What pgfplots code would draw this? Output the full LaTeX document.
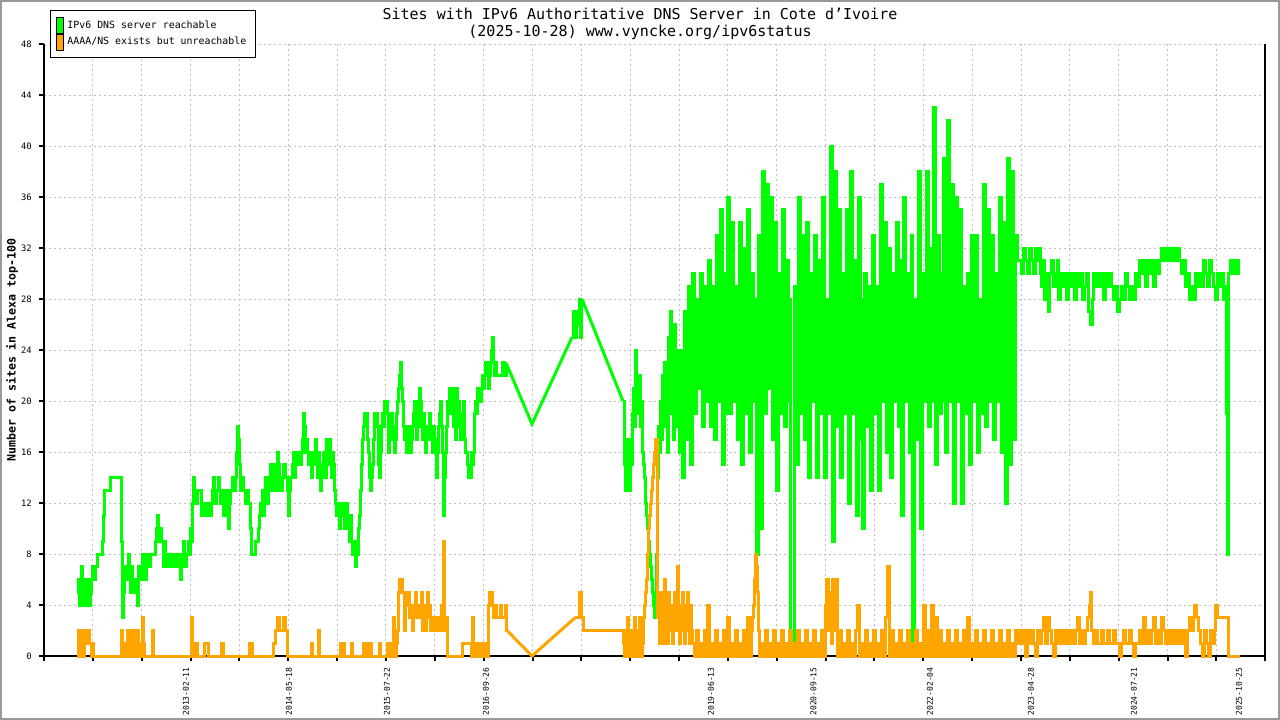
\documentclass[border=0pt]{standalone}
\usepackage{fontspec}
\setmainfont{DejaVu Sans Mono}
\usepackage{pgfplots}
\pgfplotsset{compat=1.18}
\definecolor{ipgreen}{HTML}{00FF00}
\definecolor{iporange}{HTML}{FFA500}
\definecolor{gridgray}{HTML}{C0C0C0}
\definecolor{framegray}{HTML}{999999}
\begin{document}
\begin{tikzpicture}
\useasboundingbox (0,0) rectangle (640bp,360bp);
\fill[white] (0,0) rectangle (640bp,360bp);
\draw[framegray, line width=1bp] (0.5bp,0.5bp) rectangle (639.5bp,359.5bp);
\begin{axis}[
  at={(22bp,32bp)}, anchor=south west,
  scale only axis, width=610.65bp, height=306bp,
  xmin=44, xmax=1265.3, ymin=0, ymax=48,
  clip=false,
  axis lines=left, axis line style={-, line width=1bp, black},
  tick align=outside, major tick length=2.5bp,
  tick style={black, line width=1bp},
  ytick={0,4,...,48},
  xtick={44,92.85,141.7,190.55,239.4,288.25,337.1,385.95,434.8,483.65,532.5,581.35,630.2,679.05,727.9,776.75,825.6,874.45,923.3,972.15,1021,1069.85,1118.7,1167.55,1216.4,1265.25},
  xticklabels={},
  extra x ticks={186,289,387,486,711,813.5,930,1031,1134,1239},
  extra x tick labels={2013-02-11,2014-05-18,2015-07-22,2016-09-26,2019-06-13,2020-09-15,2022-02-04,2023-04-28,2024-07-21,2025-10-25},
  extra x tick style={major tick length=0pt, grid=none},
  xmajorgrids, ymajorgrids,
  grid style={gridgray, line width=0.5bp, dash pattern=on 1bp off 1.5bp},
  /pgf/number format/assume math mode=true,
  xticklabel style={rotate=90, anchor=east, inner sep=0pt, xshift=-5.5bp, font=\fontsize{4.0bp}{4.8bp}\selectfont},
  yticklabel style={inner sep=0pt, xshift=-3.5bp, font=\fontsize{4.4bp}{5.2bp}\selectfont},
  ylabel={Number of sites in Alexa top-100},
  ylabel style={at={(axis description cs:-0.0262,0.5)}, anchor=center, font=\bfseries\fontsize{5.8bp}{7bp}\selectfont},
  legend style={at={(axis description cs:0.0049,1.0556)}, anchor=north west, draw=black, line width=0.5bp, fill=white,
    font=\fontsize{4.95bp}{6bp}\selectfont, inner xsep=3bp, inner ysep=3.5bp, row sep=0pt,
    nodes={inner xsep=1.6bp, inner ysep=0.3bp}},
  legend cell align=left,
]
% green: IPv6 DNS server reachable
\addplot[ipgreen, line width=1.5bp, const plot,
  legend image code/.code={\filldraw[fill=ipgreen, draw=black, line width=0.5bp] (0bp,-3.9bp) rectangle (3.4bp,3.9bp);}]
coordinates {(77,5)(78,6)(79,4)(80,6)(81,7)(82,5)(83,4)(84,6)(85,5)(86,4)(87,6)(88,5)(89,4)(90,5)(91,6)(92,7)(94,6)(95,7)(97,8)(100,8)(102,9)(103,11)(104,13)(107,13)(110,14)(120,14)(121,9)(122,3)(123,5)(124,7)(125,6)(127,7)(128,8)(129,6)(130,5)(131,7)(132,5)(134,6)(136,5)(137,4)(138,7)(139,6)(141,7)(142,8)(144,6)(146,8)(148,7)(150,8)(153,8)(155,9)(156,10)(157,11)(158,10)(159,9)(160,10)(161,9)(163,7)(164,9)(165,8)(167,7)(168,8)(170,7)(172,8)(173,7)(174,8)(176,7)(178,8)(180,6)(181,7)(182,8)(183,9)(184,7)(186,8)(188,9)(189,8)(190,10)(191,9)(192,12)(193,14)(194,13)(196,12)(197,13)(200,13)(201,11)(203,11)(204,12)(206,11)(208,12)(210,11)(211,12)(212,13)(213,14)(214,12)(216,13)(218,14)(219,13)(220,12)(222,13)(223,11)(224,12)(226,13)(227,11)(228,10)(229,12)(230,13)(232,14)(234,13)(235,14)(236,16)(237,18)(238,17)(239,15)(240,13)(242,14)(243,13)(245,12)(246,13)(248,12)(250,10)(251,8)(253,8)(255,9)(257,9)(258,10)(259,11)(260,12)(262,13)(263,11)(264,12)(265,14)(266,12)(268,13)(269,14)(270,15)(271,13)(272,14)(274,15)(275,13)(276,14)(277,16)(278,15)(279,13)(280,14)(281,13)(282,14)(283,15)(285,14)(287,13)(288,11)(289,13)(290,14)(292,15)(293,16)(294,14)(295,16)(297,15)(298,16)(299,15)(301,16)(302,17)(303,19)(304,18)(305,16)(306,17)(307,16)(308,15)(309,16)(310,15)(311,14)(312,15)(313,16)(314,15)(315,17)(316,15)(317,14)(318,16)(319,15)(320,13)(321,15)(322,14)(323,16)(324,15)(325,14)(326,17)(327,16)(328,15)(329,17)(330,16)(331,14)(332,16)(333,15)(334,13)(335,12)(336,11)(337,12)(338,11)(339,10)(340,11)(341,12)(343,11)(344,10)(345,12)(347,11)(348,10)(349,9)(350,11)(351,9)(352,8)(353,9)(354,8)(355,7)(356,9)(357,8)(358,10)(359,11)(360,13)(361,15)(362,17)(363,18)(364,19)(365,18)(366,19)(367,17)(368,16)(369,14)(370,13)(371,14)(372,15)(373,17)(374,19)(375,18)(376,19)(377,18)(378,15)(379,14)(380,16)(381,18)(382,19)(383,18)(384,20)(385,19)(386,20)(387,19)(388,16)(389,17)(390,18)(391,19)(392,18)(393,17)(394,16)(395,17)(396,19)(397,20)(398,21)(399,22)(400,23)(401,21)(402,20)(403,18)(404,17)(405,18)(406,16)(407,17)(408,18)(409,17)(410,16)(411,17)(412,18)(413,19)(414,20)(415,18)(416,17)(417,18)(418,20)(419,21)(420,20)(421,18)(422,17)(423,19)(424,18)(425,16)(426,17)(427,18)(428,17)(429,19)(430,18)(431,17)(432,16)(433,18)(434,17)(435,16)(436,14)(437,16)(438,18)(439,19)(440,20)(441,18)(442,16)(443,11)(444,14)(445,16)(446,18)(447,20)(448,19)(449,21)(450,20)(451,19)(452,21)(453,18)(454,20)(455,17)(456,21)(457,19)(458,20)(459,18)(460,17)(461,19)(462,18)(463,20)(464,17)(465,16)(466,16)(467,15)(468,14)(469,15)(470,14)(471,16)(472,15)(473,16)(474,19)(475,20)(476,19)(477,21)(478,20)(479,21)(480,20)(481,21)(482,22)(483,21)(484,22)(485,23)(486,22)(487,23)(488,21)(489,22)(490,23)(491,24)(492,25)(493,23)(494,22)(495,23)(496,22)(498,22)(500,22)(502,23)(504,22)(506,23)};
\addlegendentry{IPv6 DNS server reachable}
\addplot[ipgreen, line width=1.5bp, sharp plot, forget plot] coordinates {(506,23)(532,18.2)(572,25)};
\addplot[ipgreen, line width=1.5bp, const plot, forget plot] coordinates {(572,25)(573,27)(574,25)(576,26)(577,27)(579,28)(580,25)(581,28)(582,28)};
\addplot[ipgreen, line width=1.5bp, sharp plot, forget plot] coordinates {(582,28)(623,20)};
\addplot[ipgreen, line width=1.5bp, const plot, forget plot]
coordinates {(623,20)(624,15)(625,13)(626,17)(627,14)(628,16)(629,13)(630,17)(631,15)(632,19)(633,21)(634,18)(635,24)(636,22)(637,20)(638,19)(639,22)(640,18)(641,20)(642,16)(643,15)(644,14)(645,12)(646,11)(647,10)(648,9)(649,8)(650,7)(651,6)(652,5)(653,4)(654,3)(655,5)(656,8)(657,14)(658,18)(659,16)(660,20)(661,17)(662,22)(663,19)(664,23)(665,18)(666,21)(667,16)(668,25)(669,20)(670,27)(671,19)(672,23)(673,17)(674,26)(675,21)(676,24)(677,18)(678,22)(679,16)(680,24)(682,14)(684,27)(686,17)(688,29)(690,15)(692,30)(694,19)(696,28)(698,21)(700,30)(702,18)(704,29)(706,20)(708,31)(710,18)(712,29)(714,17)(716,33)(718,20)(720,35)(722,15)(724,30)(726,19)(727,36)(729,19)(731,34)(733,20)(735,29)(737,17)(739,34)(741,15)(743,32)(745,19)(747,35)(749,16)(751,30)(753,20)(755,28)(756,8)(758,33)(760,10)(762,38)(764,19)(766,37)(768,21)(770,36)(772,17)(774,34)(776,13)(778,30)(780,19)(782,35)(784,18)(786,31)(788,20)(789,28)(790,1)(792,0)(794,29)(796,15)(798,36)(800,19)(802,33)(804,17)(806,34)(808,14)(810,30)(812,20)(814,33)(816,14)(818,31)(820,19)(822,36)(824,14)(826,28)(828,19)(830,40)(832,9)(834,38)(836,18)(838,35)(840,14)(842,30)(844,19)(846,35)(848,12)(850,38)(852,19)(854,31)(856,11)(858,36)(860,17)(861,28)(862,10)(864,30)(866,18)(868,29)(870,13)(872,33)(874,19)(876,29)(878,13)(880,37)(882,20)(884,34)(886,16)(888,32)(890,14)(892,30)(894,20)(896,34)(898,18)(900,31)(901,11)(903,36)(905,20)(907,30)(909,16)(911,33)(912,0)(914,28)(916,17)(918,38)(920,10)(922,30)(924,20)(926,38)(928,18)(930,32)(932,20)(933,43)(935,15)(937,33)(939,19)(941,30)(942,20)(943,39)(945,16)(947,42)(949,20)(951,37)(953,12)(955,36)(957,20)(959,35)(961,12)(963,29)(965,19)(967,30)(969,15)(971,33)(973,20)(975,33)(977,16)(979,28)(981,19)(983,37)(985,18)(987,35)(989,20)(991,33)(993,17)(995,30)(997,20)(999,36)(1001,16)(1003,34)(1005,12)(1007,39)(1009,15)(1011,38)(1013,17)(1015,33)(1017,31)(1020,31)(1021,30)(1023,32)(1025,31)(1027,30)(1029,32)(1031,31)(1033,30)(1035,32)(1037,31)(1039,32)(1040,30)(1041,29)(1043,31)(1044,28)(1046,30)(1048,27)(1049,30)(1051,31)(1053,29)(1055,30)(1057,31)(1058,28)(1060,30)(1062,29)(1064,30)(1066,28)(1068,30)(1070,29)(1072,30)(1074,28)(1076,30)(1078,29)(1080,30)(1082,28)(1084,29)(1086,30)(1088,27)(1090,26)(1092,28)(1093,30)(1095,29)(1097,30)(1099,29)(1101,30)(1103,28)(1105,30)(1107,29)(1109,30)(1111,29)(1113,28)(1115,29)(1117,27)(1119,28)(1121,29)(1123,28)(1125,30)(1127,29)(1129,28)(1131,29)(1133,28)(1135,30)(1137,29)(1139,31)(1141,30)(1143,31)(1145,29)(1147,31)(1149,30)(1151,31)(1153,29)(1155,31)(1157,30)(1159,31)(1161,32)(1163,31)(1165,32)(1167,31)(1169,32)(1171,31)(1173,32)(1175,31)(1177,32)(1179,31)(1181,30)(1183,31)(1185,29)(1187,30)(1189,28)(1191,29)(1193,28)(1195,30)(1197,29)(1199,30)(1201,29)(1203,31)(1205,30)(1207,29)(1209,31)(1211,30)(1213,29)(1215,28)(1217,30)(1219,29)(1221,30)(1223,28)(1225,29)(1226,19)(1227,8)(1228,30)(1230,31)(1232,30)(1234,31)(1236,30)(1238,31)(1240,31)};
% orange: AAAA/NS exists but unreachable
\addplot[iporange, line width=1.5bp, const plot,
  legend image code/.code={\filldraw[fill=iporange, draw=black, line width=0.5bp] (0bp,-3.9bp) rectangle (3.4bp,3.9bp);}]
coordinates {(77,2)(78,0)(79,1)(80,0)(81,2)(82,1)(83,0)(84,1)(85,2)(86,1)(87,2)(88,2)(89,1)(90,1)(91,0)(92,1)(93,0)(94,0)(120,0)(121,2)(122,0)(123,1)(124,0)(126,1)(127,2)(128,1)(129,0)(130,1)(131,2)(132,1)(133,0)(134,1)(135,2)(136,0)(137,2)(138,1)(139,0)(140,1)(141,0)(142,3)(143,1)(144,0)(152,2)(153,0)(190,0)(191,3)(192,0)(195,1)(197,0)(204,1)(208,0)(221,1)(223,0)(249,1)(252,0)(273,1)(275,2)(277,3)(279,2)(281,2)(283,3)(285,2)(287,0)(311,1)(312,0)(318,2)(319,0)(340,1)(341,0)(343,1)(344,0)(351,1)(352,0)(363,1)(364,0)(366,1)(367,0)(369,1)(371,0)(379,1)(380,0)(387,1)(388,0)(389,1)(391,0)(393,3)(394,0)(396,1)(397,2)(398,5)(399,6)(401,6)(402,5)(404,2)(405,5)(406,4)(407,5)(409,3)(411,4)(412,2)(413,4)(414,3)(415,5)(416,4)(418,3)(419,4)(420,3)(421,5)(422,2)(423,4)(424,3)(425,2)(426,4)(427,5)(428,3)(429,4)(430,2)(431,3)(432,2)(434,3)(436,2)(438,3)(440,2)(441,4)(442,2)(443,9)(444,2)(446,3)(447,0)(462,1)(470,1)(471,0)(472,3)(473,0)(474,1)(475,0)(477,1)(478,0)(480,1)(481,0)(483,1)(485,0)(486,1)(487,0)(488,4)(489,5)(490,4)(491,5)(492,4)(493,3)(495,4)(496,3)(498,3)(500,4)(501,3)(503,3)(505,4)(506,2)(507,2)};
\addlegendentry{AAAA/NS exists but unreachable}
\addplot[iporange, line width=1.5bp, sharp plot, forget plot] coordinates {(507,2)(532,0)(575,3)};
\addplot[iporange, line width=1.5bp, const plot, forget plot]
coordinates {(575,3)(579,5)(581,3)(583,2)(623,1)(624,0)(625,2)(626,0)(627,3)(628,1)(629,0)(630,2)(631,0)(632,1)(633,0)(634,3)(635,1)(636,0)(637,2)(638,0)(639,3)(640,2)(641,0)(642,1)(643,3)(644,4)(645,5)(646,6)(647,8)(648,10)(649,11)(650,12)(651,13)(652,14)(653,15)(654,16)(655,17)(656,17)(657,3)(658,3)(659,1)(660,5)(661,2)(662,4)(663,1)(664,6)(665,2)(666,4)(667,1)(668,5)(669,3)(670,2)(671,4)(672,1)(673,3)(674,5)(675,2)(676,4)(677,7)(678,3)(679,1)(680,4)(681,2)(682,5)(683,3)(684,1)(685,4)(686,2)(687,5)(688,3)(689,1)(690,4)(691,2)(692,1)(694,0)(696,2)(698,0)(700,1)(702,0)(704,2)(706,0)(707,4)(709,0)(711,1)(713,0)(715,2)(717,0)(719,1)(721,0)(723,2)(725,0)(727,3)(729,0)(731,1)(733,0)(735,2)(737,0)(739,1)(741,0)(743,2)(745,0)(747,3)(749,0)(751,2)(752,3)(753,4)(754,6)(755,8)(756,7)(757,5)(758,2)(759,0)(761,1)(763,0)(765,2)(767,0)(769,1)(771,0)(773,2)(775,0)(777,1)(779,0)(781,2)(783,0)(785,1)(787,0)(789,2)(791,0)(793,1)(795,0)(797,2)(799,0)(801,1)(803,0)(805,2)(807,0)(809,1)(811,0)(813,2)(815,0)(817,1)(819,0)(821,2)(823,0)(825,4)(826,6)(828,2)(830,5)(831,1)(832,6)(834,2)(836,6)(837,0)(839,2)(841,0)(843,1)(845,0)(847,2)(849,0)(851,1)(853,0)(855,2)(857,4)(859,0)(861,1)(863,0)(865,2)(867,0)(869,1)(871,0)(873,2)(875,0)(877,1)(879,0)(881,2)(883,0)(885,3)(887,7)(889,0)(891,2)(893,0)(895,1)(897,0)(899,2)(901,0)(903,1)(905,0)(907,2)(909,0)(911,1)(913,0)(915,2)(917,0)(919,1)(921,0)(923,4)(925,0)(927,2)(929,0)(931,4)(933,0)(935,3)(937,0)(939,2)(941,0)(943,1)(945,0)(947,2)(949,0)(951,1)(953,0)(955,2)(957,0)(959,1)(961,0)(963,2)(965,0)(967,3)(969,0)(971,1)(973,0)(975,2)(977,0)(979,1)(981,0)(983,2)(985,0)(987,1)(989,0)(991,2)(993,0)(995,1)(997,0)(999,2)(1001,0)(1003,1)(1005,0)(1007,2)(1009,0)(1011,1)(1013,0)(1015,2)(1017,1)(1019,2)(1021,1)(1023,2)(1025,0)(1027,2)(1029,1)(1031,2)(1033,1)(1035,0)(1037,2)(1039,1)(1041,2)(1043,3)(1045,1)(1047,3)(1049,2)(1051,1)(1053,0)(1055,2)(1057,1)(1059,2)(1061,1)(1063,2)(1065,1)(1067,2)(1069,1)(1071,2)(1073,1)(1075,2)(1077,3)(1079,1)(1081,2)(1083,1)(1085,2)(1087,3)(1089,4)(1090,5)(1091,2)(1093,1)(1095,2)(1097,1)(1099,1)(1101,2)(1103,1)(1105,1)(1107,2)(1109,1)(1111,1)(1113,2)(1115,1)(1117,1)(1119,0)(1121,1)(1123,2)(1125,1)(1127,1)(1129,2)(1131,1)(1133,0)(1135,1)(1137,1)(1139,2)(1141,1)(1143,3)(1145,1)(1147,2)(1149,1)(1151,2)(1153,3)(1155,1)(1157,2)(1159,1)(1161,3)(1163,2)(1165,1)(1167,2)(1169,1)(1171,2)(1173,1)(1175,2)(1177,1)(1179,2)(1181,1)(1183,2)(1185,0)(1187,2)(1189,3)(1191,2)(1193,3)(1194,4)(1196,3)(1198,2)(1200,1)(1202,0)(1204,2)(1206,1)(1208,0)(1210,2)(1212,1)(1214,2)(1215,4)(1217,3)(1227,3)(1228,0)(1240,0)};
\draw[black, line width=1bp] (rel axis cs:1,0) -- (rel axis cs:1,1);
\end{axis}
\node[font=\fontsize{7.5bp}{9bp}\selectfont] at (320bp,353bp) {Sites with IPv6 Authoritative DNS Server in Cote d'Ivoire};
\node[font=\fontsize{7.5bp}{9bp}\selectfont] at (320bp,344bp) {(2025-10-28) www.vyncke.org/ipv6status};
\end{tikzpicture}
\end{document}
